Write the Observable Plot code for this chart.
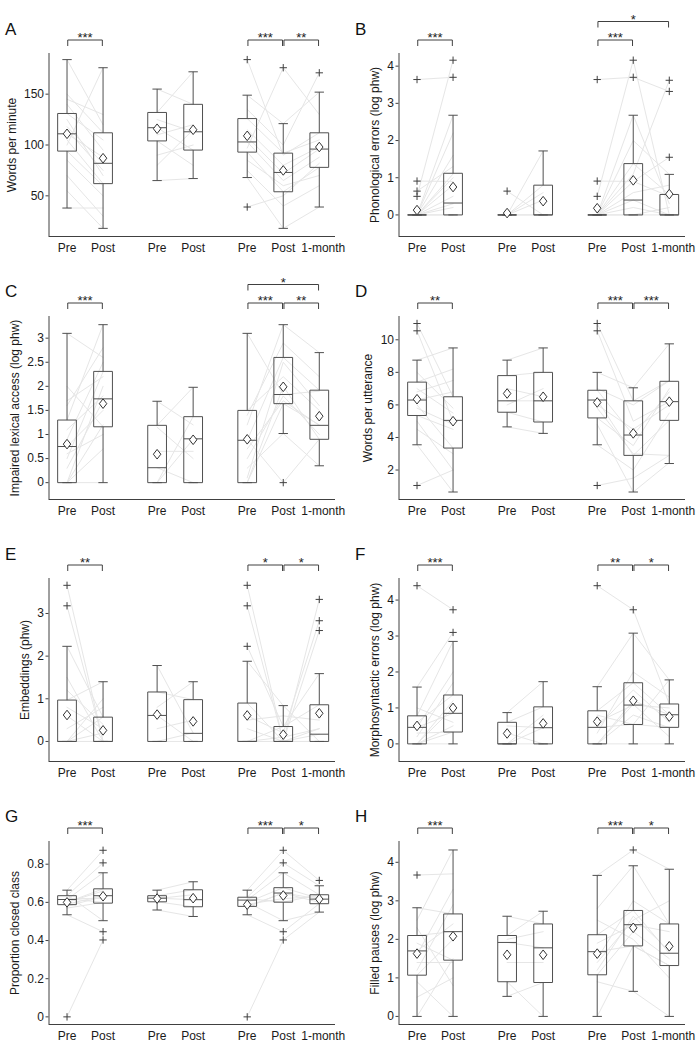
<!DOCTYPE html>
<html><head><meta charset="utf-8">
<script src="https://cdn.jsdelivr.net/npm/d3@7"></script>
<script src="https://cdn.jsdelivr.net/npm/@observablehq/plot@0.6"></script>
<style>
body{margin:0;background:#fff;font-family:"Liberation Sans",Arial,sans-serif;}
#wrap{position:relative;width:700px;height:1050px;overflow:hidden;}
.panel{position:absolute;width:350px;height:262px;}
.letter{position:absolute;font-size:17px;line-height:17px;color:#111;}
</style></head><body><div id="wrap"></div>
<script>
// ---------- categories ----------
const groupLabels = ["Pre","Post","Pre","Post","Pre","Post","1-month"];
const panelLetters = ["A","B","C","D","E","F","G","H"];
const yLabels = ["Words per minute","Phonological errors (log phw)","Impaired lexical access (log phw)","Words per utterance","Embeddings (phw)","Morphosyntactic errors (log phw)","Proportion closed class","Filled pauses (log phw)"];

// ---------- box statistics: [whiskerLow, q1, median, q3, whiskerHigh, mean] ----------
const statsA = [[38,94,111,131,184,111],[18,62,82,112,176,87],[65,104,117,132,155,116],[67,95,113,140,172,115],[68,93,103,126,149,109],[18,54,73,92,121,75],[39,78,96,112,152,98]];
const statsB = [[0,0,0,0,0,0.13],[0,0,0.32,1.12,2.68,0.75],[0,0,0,0,0,0.05],[0,0,0,0.8,1.72,0.37],[0,0,0,0,0,0.18],[0,0,0.4,1.38,2.68,0.93],[0,0,0,0.55,1.09,0.56]];
const statsC = [[0,0,0.75,1.3,3.1,0.8],[0,1.16,1.74,2.31,3.28,1.64],[0,0,0.31,1.19,1.69,0.59],[0,0,0.91,1.37,1.98,0.89],[0,0,0.88,1.5,3.1,0.9],[1.02,1.64,1.83,2.6,3.28,1.99],[0.35,0.9,1.19,1.92,2.7,1.38]];
const statsD = [[3.55,5.35,6.3,7.4,8.75,6.35],[0.65,3.35,5.05,6.5,9.5,5.0],[4.65,5.55,6.25,7.8,8.75,6.7],[4.25,4.95,6.25,8.0,9.5,6.5],[3.55,5.2,6.3,6.9,8.0,6.15],[0.65,2.9,4.15,6.25,7.05,4.25],[2.4,5.05,6.2,7.45,9.75,6.2]];
const statsE = [[0,0,0,0.97,2.23,0.62],[0,0,0,0.57,1.4,0.26],[0,0,0.61,1.16,1.78,0.63],[0,0,0.19,0.98,1.4,0.47],[0,0,0,0.9,1.88,0.61],[0,0,0,0.35,0.84,0.16],[0,0,0.17,0.86,1.59,0.66]];
const statsF = [[0,0,0.46,0.78,1.58,0.5],[0,0.33,0.85,1.36,2.85,1.0],[0,0,0,0.6,0.87,0.29],[0,0,0.45,1.03,1.73,0.57],[0,0,0.46,0.92,1.59,0.62],[0,0.54,1.08,1.7,3.08,1.2],[0,0.46,0.81,1.11,1.78,0.76]];
const statsG = [[0.535,0.588,0.615,0.635,0.664,0.6],[0.504,0.596,0.635,0.671,0.755,0.632],[0.56,0.603,0.622,0.635,0.664,0.62],[0.526,0.577,0.614,0.666,0.708,0.622],[0.535,0.579,0.612,0.627,0.664,0.588],[0.504,0.601,0.649,0.677,0.755,0.636],[0.549,0.593,0.617,0.64,0.687,0.617]];
const statsH = [[0,1.07,1.7,2.1,2.82,1.63],[0,1.46,2.2,2.66,4.32,2.08],[0.52,0.9,1.92,2.1,2.6,1.6],[0,0.88,1.78,2.4,2.73,1.6],[0,1.08,1.68,2.12,3.66,1.63],[0.65,1.83,2.38,2.75,3.91,2.3],[0,1.32,1.64,2.4,3.82,1.82]];

// ---------- outliers: [groupIndex, value] ----------
const outliersA = [[4,184],[4,39],[5,176],[6,171]];
const outliersB = [[0,3.64],[0,0.91],[0,0.64],[0,0.5],[1,4.16],[1,3.7],[2,0.64],[4,3.64],[4,0.91],[4,0.5],[5,4.16],[5,3.7],[6,3.62],[6,3.32],[6,1.55]];
const outliersC = [[5,0]];
const outliersD = [[0,11.0],[0,10.55],[0,1.05],[4,11.0],[4,10.55],[4,1.05]];
const outliersE = [[0,3.66],[0,3.18],[4,3.66],[4,3.18],[4,2.23],[6,3.33],[6,2.83],[6,2.6]];
const outliersF = [[0,4.4],[1,3.73],[1,3.1],[4,4.4],[5,3.73]];
const outliersG = [[0,0],[1,0.873],[1,0.807],[1,0.446],[1,0.403],[4,0],[5,0.873],[5,0.807],[5,0.446],[5,0.403],[6,0.715]];
const outliersH = [[0,3.67],[5,4.32]];

// ---------- significance brackets: [fromGroup, toGroup, stars, level] ----------
const bracketsA = [[0,1,"***",1],[4,5,"***",1],[5,6,"**",1]];
const bracketsB = [[0,1,"***",1],[4,5,"***",1],[4,6,"*",2]];
const bracketsC = [[0,1,"***",1],[4,5,"***",1],[5,6,"**",1],[4,6,"*",2]];
const bracketsD = [[0,1,"**",1],[4,5,"***",1],[5,6,"***",1]];
const bracketsE = [[0,1,"**",1],[4,5,"*",1],[5,6,"*",1]];
const bracketsF = [[0,1,"***",1],[4,5,"**",1],[5,6,"*",1]];
const bracketsG = [[0,1,"***",1],[4,5,"***",1],[5,6,"*",1]];
const bracketsH = [[0,1,"***",1],[4,5,"***",1],[5,6,"*",1]];

// ---------- y tick labels and axis ranges ----------
const ticksA = [50,100,150], rangeA = [10,190];
const ticksB = [0,1,2,3,4], rangeB = [-0.58,4.34];
const ticksC = [0,0.5,1,1.5,2,2.5,3], rangeC = [-0.35,3.45];
const ticksD = [2,4,6,8,10], rangeD = [0.19,11.43];
const ticksE = [0,1,2,3], rangeE = [-0.47,3.82];
const ticksF = [0,1,2,3,4], rangeF = [-0.49,4.6];
const ticksG = [0,0.2,0.4,0.6,0.8], rangeG = [-0.04,0.919];
const ticksH = [0,1,2,3,4], rangeH = [-0.21,4.54];

// ---------- individual subjects (estimated): group1 [pre,post], group2 [pre,post], group3 [pre,post,1-month] ----------
const subjA1 = [[184,120],[150,112],[140,95],[131,105],[125,70],[118,82],[111,88],[105,62],[100,176],[94,60],[85,50],[70,30],[55,18],[38,38],[145,130],[115,75]];
const subjA2 = [[155,140],[132,172],[125,113],[117,95],[110,120],[104,80],[90,100],[65,67],[80,115]];
const subjA3 = [[184,90,112],[149,121,152],[135,100,171],[126,92,105],[115,80,98],[108,72,96],[103,65,88],[97,176,130],[93,54,78],[85,60,70],[75,40,60],[68,18,39],[39,50,82]];
const subjB1 = [[0,0],[0,0.3],[0,0.5],[0,1.1],[0,1.6],[0,2.2],[0,2.68],[0,0.8],[0.5,4.16],[0.64,1.3],[0.91,0.9],[3.64,3.7],[0,0],[0,0.2],[0,1.0]];
const subjB2 = [[0,0],[0,0.8],[0,1.72],[0.64,0],[0,0.4],[0,0.6],[0,0]];
const subjB3 = [[0,0,0],[0,0.4,0],[0,1.38,0.55],[0,2.68,0.3],[0,2.0,1.09],[0,0.9,1.55],[0,0.2,0],[0.5,4.16,0],[0.91,0.9,0.5],[3.64,3.7,3.32],[0,1.1,3.62],[0,0.6,0.8],[0,0,0.2]];
const subjC1 = [[0,1.2],[0,0],[0,2.0],[0.3,1.7],[0.5,2.3],[0.75,1.5],[0.9,2.5],[1.1,1.8],[1.3,3.28],[1.6,2.8],[2.0,1.16],[3.1,2.6],[0,0.7],[1.7,2.2],[0.6,1.0]];
const subjC2 = [[0,0.9],[0,1.37],[0.31,0],[0.65,0.65],[1.19,1.98],[1.69,1.2],[1.15,0.5]];
const subjC3 = [[0,1.64,1.2],[0,2.0,0.9],[0.5,1.8,1.0],[0.88,2.6,1.92],[1.2,3.28,2.7],[1.5,2.2,1.5],[3.1,1.83,1.9],[0.3,1.02,0.35],[0.9,0,0.9],[1.4,2.9,2.2],[0.7,1.7,1.19],[0.1,2.5,1.6]];
const subjD1 = [[11.0,6.5],[10.55,5.0],[8.75,9.5],[7.4,8.2],[7.0,5.5],[6.3,6.8],[6.0,3.35],[5.35,4.5],[5.0,2.0],[4.5,3.0],[3.55,0.65],[1.05,2.0],[6.8,7.5],[5.8,4.8],[8.0,5.8]];
const subjD2 = [[8.75,9.5],[7.8,8.0],[7.0,6.5],[6.25,6.25],[5.55,4.95],[4.65,4.25],[6.0,7.0]];
const subjD3 = [[11.0,6.25,7.5],[10.55,5.0,6.2],[8.0,7.05,9.75],[6.9,4.15,6.8],[6.3,2.9,5.05],[6.0,4.5,6.0],[5.2,3.5,7.0],[4.8,0.65,2.45],[3.55,2.0,5.5],[1.05,1.5,2.9],[7.0,6.0,7.48],[5.8,3.0,2.9]];
const subjE1 = [[3.66,0],[3.18,0],[2.23,0.57],[1.5,0],[0.97,1.4],[0.8,0.3],[0.6,0],[0.3,0.8],[0,0],[0,0.57],[0,0],[0,0.2],[1.2,0.4],[0,1.0]];
const subjE2 = [[1.78,0.2],[1.16,0.98],[0.8,1.4],[0.61,0],[0.3,0.5],[0,0],[0,0.2]];
const subjE3 = [[3.66,0,0],[3.18,0,0.3],[2.23,0.35,0.86],[1.88,0.84,0],[0.9,0,3.33],[0.6,0.2,2.83],[0.3,0,2.6],[0,0,0.17],[0,0.35,1.59],[0,0,0],[0.5,0.6,0.5],[0,0.1,0.3]];
const subjF1 = [[4.4,3.73],[1.58,3.1],[0.78,2.85],[0.6,1.36],[0.46,0.85],[0.46,2.0],[0.3,0.33],[0,0.5],[0,1.0],[0,0],[0,1.2],[1.0,0.6],[0,0.33],[0.2,1.7]];
const subjF2 = [[0.87,1.73],[0.6,1.03],[0.5,0.45],[0,0],[0,0.45],[0,0.8],[0.3,0]];
const subjF3 = [[4.4,3.73,1.11],[1.59,3.08,1.78],[0.92,1.7,0.81],[0.6,1.08,1.0],[0.46,0.54,0.46],[0.3,2.0,1.3],[0,1.2,0.81],[0,0,0],[0,0.8,0.45],[0.46,1.5,0.6],[0.8,0.54,1.78],[0,1.1,0.2]];
const subjG1 = [[0,0.403],[0.535,0.446],[0.664,0.873],[0.635,0.807],[0.615,0.755],[0.6,0.671],[0.59,0.635],[0.62,0.6],[0.64,0.504],[0.58,0.63],[0.6,0.66],[0.62,0.62],[0.57,0.6]];
const subjG2 = [[0.664,0.708],[0.635,0.666],[0.622,0.614],[0.603,0.577],[0.56,0.526],[0.62,0.64]];
const subjG3 = [[0,0.403,0.549],[0.535,0.446,0.593],[0.664,0.873,0.715],[0.627,0.807,0.687],[0.612,0.755,0.64],[0.6,0.677,0.62],[0.579,0.649,0.6],[0.62,0.601,0.64],[0.6,0.504,0.549],[0.575,0.65,0.617],[0.59,0.62,0.63]];
const subjH1 = [[3.67,3.7],[2.82,2.66],[2.5,4.32],[2.1,2.2],[1.9,1.46],[1.7,2.4],[1.4,1.4],[1.07,2.0],[0.9,0],[0.5,1.0],[0,1.5],[1.2,2.9],[2.3,0.8],[1.6,3.3]];
const subjH2 = [[2.6,2.4],[2.1,2.73],[1.92,1.78],[1.4,1.4],[0.9,0],[0.52,0.88],[2.0,2.2]];
const subjH3 = [[3.66,4.32,3.82],[2.8,3.91,2.4],[2.12,2.75,1.64],[1.9,2.38,2.2],[1.68,1.83,1.32],[1.4,2.5,3.0],[1.08,2.2,1.5],[0.9,0.65,0],[0,1.83,1.32],[1.5,3.0,2.4],[2.5,2.0,1.0],[1.2,2.6,1.7]];

// ---------- layout ----------
const xPos = [1,2,3.5,4.5,6,7,8];
const xDomain = [0.5,8.45];
const boxHalf = 0.26, capHalf = 0.13;
const W = 350, H = 262, mTop = 12, mBottom = 26, mLeft = 48.5, mRight = 15;
const axisTopPx = 53;            // pixel of axis top inside panel
const plotH = H - mBottom - axisTopPx; // px between axis top and bottom
const bracketPx = {1: 39.5, 2: 21}; // bracket line pixel per level
const labelDx = [-36.5,-23.5,-34,-30.5,-23.5,-23.5,-34,-23.5];
const font = '"Liberation Sans", Arial, Helvetica, sans-serif';

const diamond = {draw(ctx, size){const r=Math.sqrt(size/Math.PI);ctx.moveTo(0,-r);ctx.lineTo(r*0.78,0);ctx.lineTo(0,r);ctx.lineTo(-r*0.78,0);ctx.closePath();}};

const panels = [
  [statsA,outliersA,bracketsA,ticksA,rangeA,subjA1,subjA2,subjA3],
  [statsB,outliersB,bracketsB,ticksB,rangeB,subjB1,subjB2,subjB3],
  [statsC,outliersC,bracketsC,ticksC,rangeC,subjC1,subjC2,subjC3],
  [statsD,outliersD,bracketsD,ticksD,rangeD,subjD1,subjD2,subjD3],
  [statsE,outliersE,bracketsE,ticksE,rangeE,subjE1,subjE2,subjE3],
  [statsF,outliersF,bracketsF,ticksF,rangeF,subjF1,subjF2,subjF3],
  [statsG,outliersG,bracketsG,ticksG,rangeG,subjG1,subjG2,subjG3],
  [statsH,outliersH,bracketsH,ticksH,rangeH,subjH1,subjH2,subjH3]
];

const wrap = document.getElementById("wrap");
const labelMap = new Map(xPos.map((p,i)=>[p,groupLabels[i]]));

panels.forEach(([stats,outliers,brackets,ticks,range,s1,s2,s3], pi) => {
  const [lo, hi] = range;
  const k = (hi - lo) / plotH;            // data units per px
  const yTop = hi + (axisTopPx - mTop) * k;
  const pxToY = p => hi + (axisTopPx - p) * k;

  const segs = [];
  stats.forEach(([wl,q1,med,q3,wh], i) => {
    const x = xPos[i];
    segs.push({x1:x-boxHalf,x2:x+boxHalf,y1:q1,y2:q1});
    segs.push({x1:x-boxHalf,x2:x+boxHalf,y1:q3,y2:q3});
    segs.push({x1:x-boxHalf,x2:x-boxHalf,y1:q1,y2:q3});
    segs.push({x1:x+boxHalf,x2:x+boxHalf,y1:q1,y2:q3});
    segs.push({x1:x-boxHalf,x2:x+boxHalf,y1:med,y2:med});
    segs.push({x1:x,x2:x,y1:q3,y2:wh});
    segs.push({x1:x,x2:x,y1:wl,y2:q1});
    segs.push({x1:x-capHalf,x2:x+capHalf,y1:wh,y2:wh});
    segs.push({x1:x-capHalf,x2:x+capHalf,y1:wl,y2:wl});
  });
  const means = stats.map((s,i)=>({x:xPos[i], y:s[5]}));
  const outs = outliers.map(([g,v])=>({x:xPos[g], y:v}));

  const lineData = [];
  s1.forEach((vals,j)=>vals.forEach((v,t)=>lineData.push({id:"a"+j,x:xPos[t],y:v})));
  s2.forEach((vals,j)=>vals.forEach((v,t)=>lineData.push({id:"b"+j,x:xPos[2+t],y:v})));
  s3.forEach((vals,j)=>vals.forEach((v,t)=>lineData.push({id:"c"+j,x:xPos[4+t],y:v})));

  const bSegs = [], bText = [];
  brackets.forEach(([a,b,txt,lev])=>{
    const xa = xPos[a]+0.02, xb = xPos[b]-0.02;
    const yl = pxToY(bracketPx[lev]), yt = pxToY(bracketPx[lev]+6);
    bSegs.push({x1:xa,x2:xb,y1:yl,y2:yl});
    bSegs.push({x1:xa,x2:xa,y1:yl,y2:yt});
    bSegs.push({x1:xb,x2:xb,y1:yl,y2:yt});
    bText.push({x:(xPos[a]+xPos[b])/2, y:yl, t:txt});
  });

  const chart = Plot.plot({
    width: W, height: H, marginTop: mTop, marginBottom: mBottom, marginLeft: mLeft, marginRight: mRight,
    x: {domain: xDomain},
    y: {domain: [lo, yTop]},
    style: {fontFamily: font, fontSize: "12px", color: "#1a1a1a", background: "white", overflow: "visible"},
    marks: [
      Plot.line(lineData, {x:"x", y:"y", z:"id", stroke:"#e6e6e6", strokeWidth:1}),
      Plot.link(segs, {x1:"x1", y1:"y1", x2:"x2", y2:"y2", stroke:"#505050", strokeWidth:1}),
      Plot.dot(outs, {x:"x", y:"y", symbol:"plus", r:2.5, stroke:"#404040", strokeWidth:1}),
      Plot.dot(means, {x:"x", y:"y", symbol:diamond, r:4.8, fill:"white", stroke:"#333", strokeWidth:1}),
      Plot.link(bSegs, {x1:"x1", y1:"y1", x2:"x2", y2:"y2", stroke:"#404040", strokeWidth:1}),
      Plot.text(bText, {x:"x", y:"y", text:"t", lineAnchor:"bottom", dy:2, fontSize:13, fill:"#222"}),
      Plot.ruleX([xDomain[0]], {y1: lo, y2: hi, stroke:"#404040", strokeWidth:1}),
      Plot.ruleY([lo], {x1: xDomain[0], x2: xDomain[1], stroke:"#404040", strokeWidth:1}),
      Plot.axisY(ticks, {tickSize:3, tickPadding:2, label:null, tickFormat:d=>String(d), fontSize:12, stroke:"#404040"}),
      Plot.axisX(xPos.slice(0,6), {tickSize:0, tickPadding:7, label:null, tickFormat:d=>labelMap.get(d), fontSize:12}),
      Plot.axisX(xPos.slice(6), {tickSize:0, tickPadding:7, label:null, tickFormat:d=>labelMap.get(d), fontSize:12, dx:4}),
      Plot.text([yLabels[pi]], {x: xDomain[0], y: (lo+hi)/2, text: d=>d, rotate:-90, dx: labelDx[pi], lineAnchor:"middle", textAnchor:"middle", fontSize:12, fill:"#1a1a1a"})
    ]
  });
  const col = pi % 2, row = Math.floor(pi / 2);
  const div = document.createElement("div");
  div.className = "panel";
  div.style.left = (col*350) + "px";
  div.style.top = (row*262.5) + "px";
  div.appendChild(chart);
  wrap.appendChild(div);
  const let_ = document.createElement("div");
  let_.className = "letter";
  let_.textContent = panelLetters[pi];
  let_.style.left = (col*350 + 5) + "px";
  let_.style.top = (row*262.5 + 20.5) + "px";
  wrap.appendChild(let_);
});
</script>
</body></html>
